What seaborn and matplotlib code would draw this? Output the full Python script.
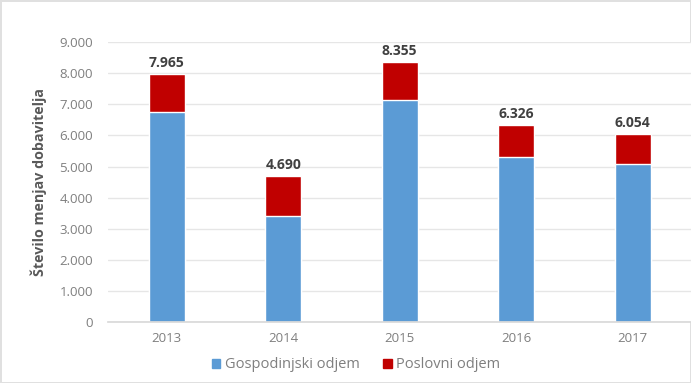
import matplotlib
matplotlib.use("Agg")
import matplotlib.pyplot as plt
import seaborn as sns
import pandas as pd
from matplotlib.ticker import FuncFormatter, MultipleLocator
from matplotlib.patches import Patch

years = ["2013", "2014", "2015", "2016", "2017"]
gospodinjski = [6760, 3420, 7140, 5300, 5070]
totals = [7965, 4690, 8355, 6326, 6054]
poslovni = [t - g for t, g in zip(totals, gospodinjski)]

df = pd.DataFrame({"leto": years, "gosp": gospodinjski, "skupaj": totals})

sns.set_theme(style="white")
plt.rcParams['font.family'] = ['Open Sans', 'DejaVu Sans']

blue = "#5B9BD5"
red = "#C00000"

fig = plt.figure(figsize=(6.91, 3.83), dpi=100)
ax = fig.add_axes([0.157, 0.159, 0.843, 0.731])

sns.barplot(data=df, x="leto", y="skupaj", color=red, width=0.31, ax=ax, saturation=1)
sns.barplot(data=df, x="leto", y="gosp", color=blue, width=0.31, ax=ax, saturation=1)

labels = [f"{v:,}".replace(",", ".") for v in totals]
ax.bar_label(ax.containers[0], labels=labels, padding=3, fontsize=10,
             fontweight="bold", color="#404040")

ax.set_ylim(0, 9000)
ax.yaxis.set_major_locator(MultipleLocator(1000))
ax.yaxis.set_major_formatter(FuncFormatter(lambda v, p: f"{int(v):,}".replace(",", ".")))
ax.grid(axis="y", color="#E6E6E6", linewidth=1)
ax.set_axisbelow(True)
for s in ["top", "right", "left"]:
    ax.spines[s].set_visible(False)
ax.spines["bottom"].set_color("#D9D9D9")
ax.tick_params(axis="y", length=0, labelsize=9.5, colors="#7F7F7F", pad=11)
ax.tick_params(axis="x", length=0, labelsize=9.5, colors="#7F7F7F", pad=7)
ax.set_xlabel("")
ax.set_ylabel("Število menjav dobavitelja", fontsize=10.3, fontweight="bold",
              color="#595959", labelpad=9)

handles = [Patch(color=blue, label="Gospodinjski odjem"),
           Patch(color=red, label="Poslovni odjem")]
fig.legend(handles=handles, loc="center", bbox_to_anchor=(0.515, 0.047), ncol=2,
           frameon=False, fontsize=10.5, handlelength=0.6, handleheight=0.6,
           handletextpad=0.3, columnspacing=1.6, labelcolor="#7F7F7F")

fig.patch.set_edgecolor("#E0E0E0")
fig.patch.set_linewidth(2)
fig.savefig("out.png", dpi=100, edgecolor=fig.get_edgecolor())
